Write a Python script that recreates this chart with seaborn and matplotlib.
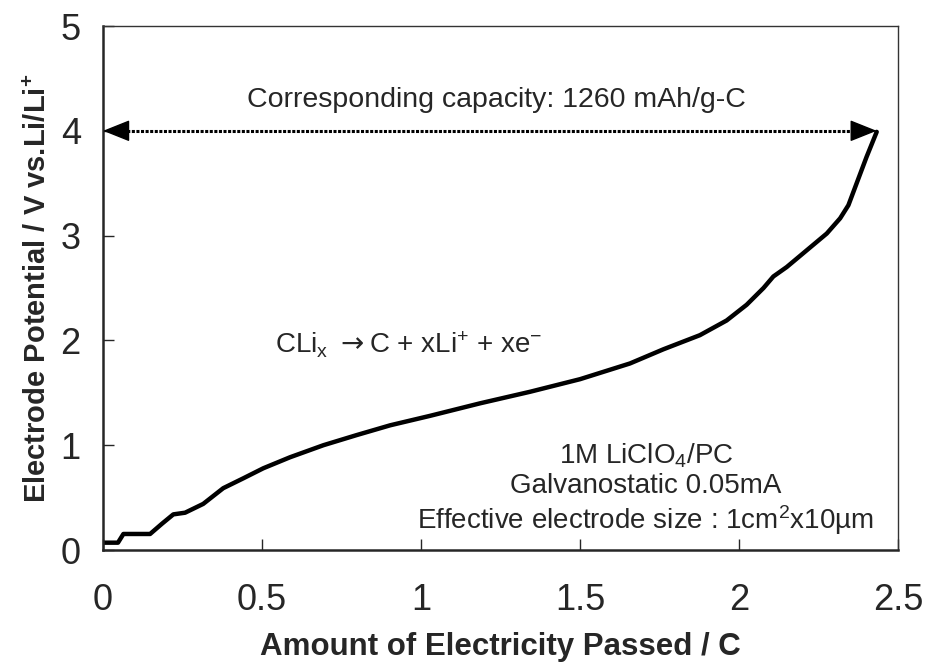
import numpy as np
import pandas as pd
import seaborn as sns
import matplotlib
matplotlib.use('Agg')
import matplotlib.pyplot as plt

# discharge curve
charge = [0.0, 0.047, 0.064, 0.10, 0.148, 0.185, 0.221, 0.258, 0.315, 0.378, 0.441,
          0.504, 0.588, 0.693, 0.798, 0.903, 1.028, 1.186, 1.343, 1.50, 1.657,
          1.762, 1.877, 1.961, 2.024, 2.077, 2.108, 2.15, 2.213, 2.276, 2.318,
          2.344, 2.37, 2.401, 2.433]
potential = [0.07, 0.07, 0.153, 0.153, 0.153, 0.25, 0.34, 0.356, 0.44, 0.59, 0.684,
             0.78, 0.885, 1.0, 1.097, 1.19, 1.28, 1.40, 1.51, 1.63, 1.78,
             1.915, 2.05, 2.19, 2.34, 2.50, 2.61, 2.70, 2.86, 3.02, 3.165,
             3.29, 3.50, 3.75, 3.99]
x_ticks = [0, 0.5, 1, 1.5, 2, 2.5]
x_ticklabels = ['0', '0.5', '1', '1.5', '2', '2.5']
y_ticks = [0, 1, 2, 3, 4, 5]
capacity_end = 2.433
capacity_level = 4.0

sns.set_theme(style='ticks')
plt.rcParams['font.family'] = ['Liberation Sans', 'DejaVu Sans']
plt.rcParams['mathtext.fontset'] = 'custom'
plt.rcParams['mathtext.rm'] = 'Liberation Sans'
plt.rcParams['mathtext.sf'] = 'DejaVu Sans'
plt.rcParams['mathtext.default'] = 'regular'

df = pd.DataFrame({'Q': charge, 'E': potential})

fig = plt.figure(figsize=(9.3, 6.67), dpi=100)
ax = fig.add_axes([0.1108, 0.1754, 0.8548, 0.7856])
sns.lineplot(data=df, x='Q', y='E', ax=ax, color='black', lw=3.2,
             sort=False, estimator=None)

# dotted double arrow for the capacity
ax.plot([0.03, capacity_end - 0.03], [capacity_level, capacity_level],
        color='black', lw=2.2, linestyle=(0, (1, 0.5)))
for tip, tail in [(0, 0.06), (capacity_end, capacity_end - 0.06)]:
    ax.annotate('', xy=(tip, capacity_level), xytext=(tail, capacity_level),
                arrowprops=dict(arrowstyle='-|>,head_length=0.85,head_width=0.34',
                                color='black', lw=1, mutation_scale=20,
                                shrinkA=0, shrinkB=0))

fs = 20
ax.text(1.236, 4.29, 'Corresponding capacity: 1260 mAh/g-C', ha='center',
        va='center', fontsize=20.5)
ax.text(0.541, 1.96, r'CLi$_{\mathregular{x}}$ $\mathsf{\rightarrow}$C + xLi$^{+}$ + xe$^{-}$',
        ha='left', va='center', fontsize=fs)
ax.text(1.707, 0.895, r'1M LiClO$_{4}$/PC', ha='center', va='center', fontsize=fs)
ax.text(1.707, 0.615, 'Galvanostatic 0.05mA', ha='center', va='center', fontsize=fs)
ax.text(1.707, 0.29, 'Effective electrode size : 1cm$^{2}$x10\u00b5m',
        ha='center', va='center', fontsize=fs)

ax.set_xlim(0, 2.5)
ax.set_ylim(0, 5)
ax.set_xticks(x_ticks)
ax.set_xticklabels(x_ticklabels)
ax.set_yticks(y_ticks)
ax.tick_params(direction='in', length=8, width=1, labelsize=26)
ax.tick_params(axis='x', pad=24)
ax.tick_params(axis='y', pad=16)
ax.set_xlabel('Amount of Electricity Passed / C', fontsize=22.5, fontweight='bold',
              labelpad=10)
ax.set_ylabel('Electrode Potential / V vs.Li/Li$^{+}$', fontsize=21,
              fontweight='bold', labelpad=6)
for side in ['left', 'bottom']:
    ax.spines[side].set_linewidth(1.8)
for side in ['top', 'right']:
    ax.spines[side].set_linewidth(1)
    ax.spines[side].set_color('#333333')

fig.savefig('out.png', dpi=100)
